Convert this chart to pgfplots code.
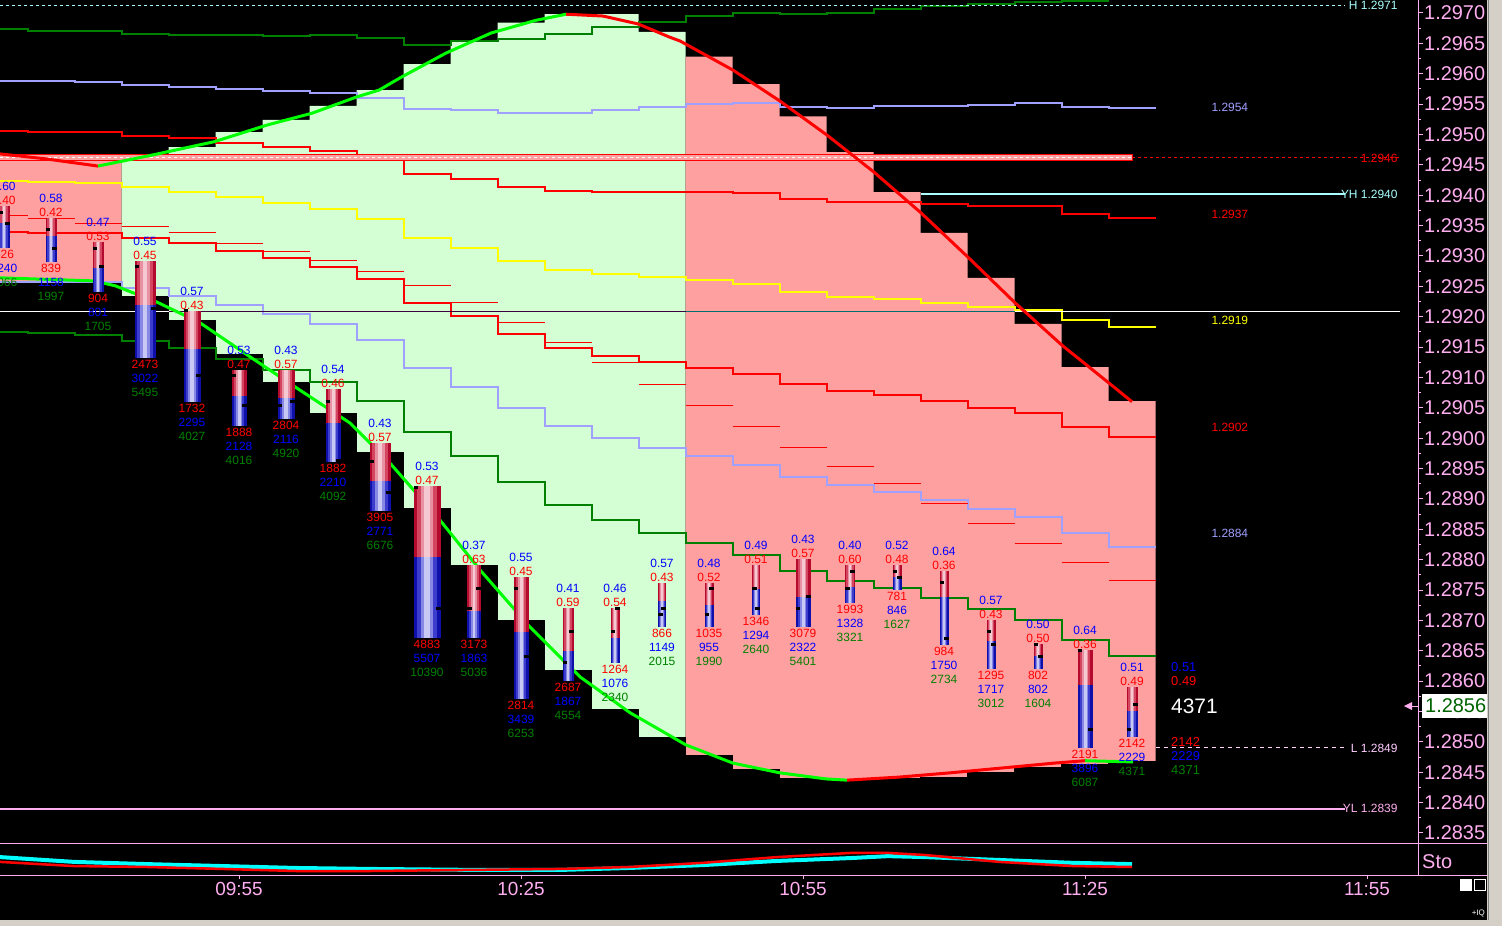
\documentclass[border=0pt]{standalone}
\usepackage{fontspec}
\setmainfont{Liberation Sans}
\usepackage{pgfplots}
\pgfplotsset{compat=1.18}

\definecolor{lgreen}{RGB}{212,255,212}
\definecolor{lpink}{RGB}{255,160,160}
\definecolor{dgreen}{RGB}{0,128,0}
\definecolor{vio}{RGB}{160,160,255}
\definecolor{pinkax}{RGB}{255,175,240}
\definecolor{mylime}{RGB}{0,255,0}
\definecolor{myred}{RGB}{255,0,0}
\definecolor{myyel}{RGB}{255,255,0}
\definecolor{mycyan}{RGB}{0,255,255}
\definecolor{lcyan}{RGB}{170,255,255}
\definecolor{graybg}{RGB}{212,208,200}
\definecolor{darkpur}{RGB}{60,0,60}
\definecolor{tealx}{RGB}{0,110,110}
\definecolor{lblpink}{RGB}{255,205,255}
\definecolor{pricegreen}{RGB}{0,100,0}
\definecolor{brD}{RGB}{180,10,45}
\definecolor{brM}{RGB}{212,70,95}
\definecolor{brL}{RGB}{232,145,162}
\definecolor{brX}{RGB}{245,200,210}
\definecolor{bbD}{RGB}{15,15,170}
\definecolor{bbM}{RGB}{60,60,205}
\definecolor{bbL}{RGB}{135,135,228}
\definecolor{bbX}{RGB}{200,200,245}

\newcommand{\lblfont}{\fontsize{12}{14}\selectfont}

% x, top, split, bottom, width(px), open, close
\newcommand{\candle}[7]{%
  \addplot[brD, line width=#5bp] coordinates {(#1,#2) (#1,#3)};
  \addplot[brM, line width=0.72*#5bp] coordinates {(#1,#2) (#1,#3)};
  \addplot[brL, line width=0.45*#5bp] coordinates {(#1,#2) (#1,#3)};
  \addplot[brX, line width=0.2*#5bp] coordinates {(#1,#2) (#1,#3)};
  \addplot[bbD, line width=#5bp] coordinates {(#1,#3) (#1,#4)};
  \addplot[bbM, line width=0.72*#5bp] coordinates {(#1,#3) (#1,#4)};
  \addplot[bbL, line width=0.45*#5bp] coordinates {(#1,#3) (#1,#4)};
  \addplot[bbX, line width=0.2*#5bp] coordinates {(#1,#3) (#1,#4)};
  \pgfmathsetmacro\cxa{#1-#5/18.8}%
  \pgfmathsetmacro\cxb{#1-#5/18.8+0.5}%
  \pgfmathsetmacro\cxc{#1+#5/18.8-0.5}%
  \pgfmathsetmacro\cxd{#1+#5/18.8}%
  \edef\tmpa{\noexpand\addplot[black, line width=3bp] coordinates {(\cxa,#6) (\cxb,#6)};}\tmpa
  \edef\tmpb{\noexpand\addplot[black, line width=3bp] coordinates {(\cxc,#7) (\cxd,#7)};}\tmpb
}
% x, top, bottom, blue ratio, red ratio, red count, blue count, total
\newcommand{\blab}[8]{%
  \node[font=\lblfont, text=blue, yshift=19.5bp] at (axis cs:#1,#2) {#4};
  \node[font=\lblfont, text=red, yshift=5.5bp] at (axis cs:#1,#2) {#5};
  \node[font=\lblfont, text=red, yshift=-6.5bp] at (axis cs:#1,#3) {#6};
  \node[font=\lblfont, text=blue, yshift=-20.5bp] at (axis cs:#1,#3) {#7};
  \node[font=\lblfont, text=dgreen, yshift=-34.5bp] at (axis cs:#1,#3) {#8};
}

\begin{document}
\begin{tikzpicture}
\useasboundingbox (0,0) rectangle (1502bp,-926bp);
\fill[black] (0,0) rectangle (1502bp,-926bp);

\begin{axis}[
  at={(0,-843bp)}, anchor=south west,
  width=1418bp, height=843bp, scale only axis,
  xmin=-0.4255, xmax=150.426,
  ymin=1.283335, ymax=1.297214,
  enlargelimits=false,
  axis line style={draw=none},
  xtick=\empty,
  ytick={1.2835,1.284,1.2845,1.285,1.2855,1.286,1.2865,1.287,1.2875,1.288,1.2885,1.289,1.2895,1.29,1.2905,1.291,1.2915,1.292,1.2925,1.293,1.2935,1.294,1.2945,1.295,1.2955,1.296,1.2965,1.297},
  ytick pos=right, yticklabel pos=right,
  minor y tick num=1,
  tick align=outside,
  major tick length=5bp, minor tick length=3bp,
  every tick/.append style={pinkax, line width=1bp},
  scaled y ticks=false,
  yticklabel style={/pgf/number format/fixed, /pgf/number format/fixed zerofill, /pgf/number format/precision=4, /pgf/number format/assume math mode=true, text=pinkax, font=\fontsize{20}{20}\selectfont, inner sep=1bp},
  clip=true,
]
% shaded ranges
\addplot[fill=lpink, draw=none, const plot] coordinates {(-2.5,1.29458) (12.5,1.29458)} \closedcycle;
\addplot[fill=lgreen, draw=none, const plot] coordinates {(12.5,1.29458) (17.5,1.29479) (22.5,1.29504) (27.5,1.29524) (32.5,1.29547) (37.5,1.29573) (42.5,1.29616) (47.5,1.29654) (52.5,1.29684) (57.5,1.29698) (62.5,1.29698) (67.5,1.29669) (72.5,1.29669)} \closedcycle;
\addplot[fill=lpink, draw=none, const plot] coordinates {(72.5,1.29628) (77.5,1.29583) (82.5,1.29530) (87.5,1.29471) (92.5,1.29405) (97.5,1.29338) (102.5,1.29264) (107.5,1.29188) (112.5,1.29117) (117.5,1.29061) (122.5,1.29061)} \closedcycle;
\addplot[fill=black, draw=black, line width=1bp, const plot] coordinates {(-3,1.29256) (2.5,1.29256) (7.5,1.29256) (12.5,1.29234) (17.5,1.29193) (22.5,1.29137) (27.5,1.29091) (32.5,1.29041) (37.5,1.28976) (42.5,1.28885) (47.5,1.28791) (52.5,1.28700) (57.5,1.28617) (62.5,1.28554) (67.5,1.28508) (72.5,1.28477) (77.5,1.28454) (82.5,1.28439) (87.5,1.28437) (92.5,1.28439) (97.5,1.28442) (102.5,1.28449) (107.5,1.28457) (112.5,1.28462) (117.5,1.28467) (123.2,1.28467)} \closedcycle;

% stepped bands
\addplot[dgreen, line width=2bp, const plot] coordinates {(-2.5,1.29674) (2.5,1.29670) (7.5,1.29670) (12.5,1.29665) (17.5,1.29664) (22.5,1.29664) (27.5,1.29662) (32.5,1.29664) (37.5,1.29659) (42.5,1.29647) (47.5,1.29654) (52.5,1.29657) (57.5,1.29665) (62.5,1.29677) (67.5,1.29685) (72.5,1.29695) (77.5,1.29700) (82.5,1.29698) (87.5,1.29700) (92.5,1.29707) (97.5,1.29712) (102.5,1.29715) (107.5,1.29718) (112.5,1.29720) (117.5,1.29720)};
\addplot[vio, line width=2bp, const plot] coordinates {(-2.5,1.29588) (2.5,1.29588) (7.5,1.29586) (12.5,1.29581) (17.5,1.29578) (22.5,1.29575) (27.5,1.29572) (32.5,1.29568) (37.5,1.29560) (42.5,1.29542) (47.5,1.29540) (52.5,1.29535) (57.5,1.29535) (62.5,1.29540) (67.5,1.29545) (72.5,1.29550) (77.5,1.29552) (82.5,1.29545) (87.5,1.29544) (92.5,1.29547) (97.5,1.29547) (102.5,1.29549) (107.5,1.29552) (112.5,1.29545) (117.5,1.29544) (122.5,1.29544)};
\addplot[myred, line width=2bp, const plot] coordinates {(-2.5,1.29506) (2.5,1.29504) (7.5,1.29504) (12.5,1.29497) (17.5,1.29494) (22.5,1.29486) (27.5,1.29479) (32.5,1.29473) (37.5,1.29460) (42.5,1.29435) (47.5,1.29427) (52.5,1.29414) (57.5,1.29407) (62.5,1.29405) (67.5,1.29405) (72.5,1.29405) (77.5,1.29404) (82.5,1.29394) (87.5,1.29389) (92.5,1.29389) (97.5,1.29386) (102.5,1.29382) (107.5,1.29382) (112.5,1.29369) (117.5,1.29362) (122.5,1.29362)};
\addplot[myyel, line width=2bp, const plot] coordinates {(-2.5,1.29423) (2.5,1.29422) (7.5,1.29420) (12.5,1.29414) (17.5,1.29405) (22.5,1.29397) (27.5,1.29387) (32.5,1.29377) (37.5,1.29361) (42.5,1.29330) (47.5,1.29313) (52.5,1.29292) (57.5,1.29277) (62.5,1.29270) (67.5,1.29265) (72.5,1.29260) (77.5,1.29254) (82.5,1.29241) (87.5,1.29232) (92.5,1.29229) (97.5,1.29223) (102.5,1.29216) (107.5,1.29211) (112.5,1.29195) (117.5,1.29183) (122.5,1.29183)};
\addplot[myred, line width=2bp, const plot] coordinates {(-2.5,1.29339) (2.5,1.29338) (7.5,1.29338) (12.5,1.29330) (17.5,1.29321) (22.5,1.29308) (27.5,1.29297) (32.5,1.29282) (37.5,1.29262) (42.5,1.29223) (47.5,1.29201) (52.5,1.29172) (57.5,1.29148) (62.5,1.29135) (67.5,1.29125) (72.5,1.29116) (77.5,1.29106) (82.5,1.29089) (87.5,1.29077) (92.5,1.29071) (97.5,1.29061) (102.5,1.29050) (107.5,1.29041) (112.5,1.29018) (117.5,1.29002) (122.5,1.29002)};
\addplot[vio, line width=2bp, const plot] coordinates {(-2.5,1.29257) (2.5,1.29257) (7.5,1.29257) (12.5,1.29247) (17.5,1.29234) (22.5,1.29219) (27.5,1.29204) (32.5,1.29188) (37.5,1.29162) (42.5,1.29116) (47.5,1.29084) (52.5,1.29050) (57.5,1.29020) (62.5,1.29000) (67.5,1.28984) (72.5,1.28971) (77.5,1.28956) (82.5,1.28936) (87.5,1.28923) (92.5,1.28911) (97.5,1.28898) (102.5,1.28883) (107.5,1.28870) (112.5,1.28844) (117.5,1.28821) (122.5,1.28821)};
\addplot[dgreen, line width=2bp, const plot] coordinates {(-2.5,1.29175) (2.5,1.29173) (7.5,1.29170) (12.5,1.29160) (17.5,1.29148) (22.5,1.29130) (27.5,1.29112) (32.5,1.29092) (37.5,1.29061) (42.5,1.29010) (47.5,1.28971) (52.5,1.28928) (57.5,1.28890) (62.5,1.28865) (67.5,1.28844) (72.5,1.28827) (77.5,1.28808) (82.5,1.28781) (87.5,1.28765) (92.5,1.28753) (97.5,1.28737) (102.5,1.28719) (107.5,1.28701) (112.5,1.28668) (117.5,1.28641) (122.5,1.28641)};
\addplot[myred, line width=1bp, jump mark left] coordinates {(-2.5,1.29366) (2.5,1.29361) (7.5,1.29354) (12.5,1.29348) (17.5,1.29338) (22.5,1.29321) (27.5,1.29308) (32.5,1.29293) (37.5,1.29275) (42.5,1.29251) (47.5,1.29223) (52.5,1.29191) (57.5,1.29158) (62.5,1.29124) (67.5,1.29089) (72.5,1.29053) (77.5,1.29020) (82.5,1.28985) (87.5,1.28954) (92.5,1.28925) (97.5,1.28892) (102.5,1.28859) (107.5,1.28827) (112.5,1.28795) (117.5,1.28765) (122.5,1.28765)};

% reference levels
\addplot[lcyan, line width=1bp, dash pattern=on 3bp off 3bp] coordinates {(-0.43,1.29713) (142.66,1.29713)};
\addplot[fill=lpink, draw=myred, line width=1bp] coordinates {(-0.43,1.29467) (120.0,1.29467) (120.0,1.29457) (-0.43,1.29457)} -- cycle;
\addplot[white, line width=0.8bp, dash pattern=on 3bp off 3bp] coordinates {(-0.43,1.29462) (120.0,1.29462)};
\addplot[myred, line width=1bp, dash pattern=on 3bp off 3bp] coordinates {(120.0,1.29462) (148.51,1.29462)};
\addplot[lcyan, line width=1.5bp] coordinates {(97.55,1.29402) (142.66,1.29402)};
\addplot[white, line width=1.2bp] coordinates {(-0.43,1.29208) (17.5,1.29208)};
\addplot[darkpur, line width=1.2bp] coordinates {(17.5,1.29208) (72.5,1.29208)};
\addplot[tealx, line width=1.2bp] coordinates {(72.5,1.29208) (107.5,1.29208)};
\addplot[white, line width=1.2bp] coordinates {(107.5,1.29208) (148.51,1.29208)};
\addplot[lblpink, line width=1bp, dash pattern=on 4bp off 4bp] coordinates {(122.55,1.2849) (142.66,1.2849)};
\addplot[pinkax, line width=2bp] coordinates {(-0.43,1.2839) (142.66,1.2839)};

% smoothed high / low curves
\addplot[myred, line width=3bp] coordinates {(-0.43,1.29468) (4.36,1.29460) (10.0,1.29448)};
\addplot[mylime, line width=3bp] coordinates {(10.0,1.29448) (15.74,1.29466) (22.34,1.29488) (28.09,1.29516) (32.77,1.29535) (37.55,1.29562) (39.89,1.29573) (42.34,1.29595) (47.02,1.29634) (51.81,1.29667) (56.60,1.29688) (59.79,1.29698)};
\addplot[myred, line width=3bp] coordinates {(59.79,1.29698) (63.72,1.29695) (67.45,1.29682) (70.85,1.29660) (71.91,1.29654) (77.55,1.29606) (82.55,1.29555) (87.55,1.29499) (92.55,1.29438) (97.55,1.29371) (102.55,1.29298) (107.55,1.29223) (112.55,1.29153) (117.45,1.29092) (120.0,1.29060)};
\addplot[mylime, line width=3bp] coordinates {(-0.43,1.29264) (9.47,1.29259) (11.81,1.29251) (16.28,1.29224) (20.85,1.29190) (26.17,1.29134) (31.49,1.29079) (36.81,1.29025) (41.06,1.28959) (46.38,1.28865) (50.64,1.28783) (55.96,1.28689) (61.28,1.28607) (66.60,1.28548) (72.55,1.28495) (77.55,1.28465) (82.55,1.28449) (87.45,1.28439) (89.68,1.28437)};
\addplot[myred, line width=3bp] coordinates {(89.68,1.28437) (95.21,1.28442) (100.64,1.28449) (106.17,1.28457) (111.70,1.28465) (115.0,1.28469)};
\addplot[mylime, line width=3bp] coordinates {(115.0,1.28469) (120.11,1.28467)};

% volume bars
\candle{0}{1.29382}{1.29354}{1.29313}{11}{1.29372}{1.29353}
\candle{5}{1.29362}{1.29333}{1.29290}{11}{1.29343}{1.29313}
\candle{10}{1.29323}{1.29280}{1.29241}{11}{1.29313}{1.29282}
\candle{15}{1.29292}{1.29219}{1.29132}{21}{1.29282}{1.29213}
\candle{20}{1.29209}{1.29147}{1.29060}{17}{1.29211}{1.29104}
\candle{25}{1.29112}{1.29069}{1.29020}{15}{1.29104}{1.29053}
\candle{30}{1.29112}{1.29066}{1.29032}{17}{1.29053}{1.29061}
\candle{35}{1.29081}{1.29025}{1.28961}{15}{1.29061}{1.28964}
\candle{40}{1.28992}{1.28930}{1.28880}{21}{1.28961}{1.28911}
\candle{45}{1.28921}{1.28804}{1.28671}{27}{1.28918}{1.28719}
\candle{50}{1.28791}{1.28716}{1.28671}{14}{1.28719}{1.28752}
\candle{55}{1.28771}{1.28681}{1.28571}{15}{1.28752}{1.28641}
\candle{60}{1.28720}{1.28650}{1.28600}{11}{1.28630}{1.28681}
\candle{65}{1.28720}{1.28671}{1.28630}{9}{1.28681}{1.28719}
\candle{70}{1.28762}{1.28732}{1.28689}{8}{1.28710}{1.28720}
\candle{75}{1.28762}{1.28725}{1.28689}{9}{1.28710}{1.28752}
\candle{80}{1.28791}{1.28752}{1.28709}{8}{1.28752}{1.28720}
\candle{85}{1.28801}{1.28738}{1.28689}{15}{1.28720}{1.28740}
\candle{90}{1.28791}{1.28755}{1.28729}{10}{1.28752}{1.28781}
\candle{95}{1.28791}{1.28771}{1.28750}{9}{1.28781}{1.28771}
\candle{100}{1.28781}{1.28738}{1.28660}{9}{1.28762}{1.28671}
\candle{105}{1.28701}{1.28666}{1.28620}{9}{1.28681}{1.28661}
\candle{110}{1.28661}{1.28641}{1.28620}{9}{1.28660}{1.28641}
\candle{115}{1.28651}{1.28594}{1.28490}{15}{1.28650}{1.28521}
\candle{120}{1.28590}{1.28551}{1.28508}{11}{1.28521}{1.28561}

\blab{0}{1.29382}{1.29313}{0.60}{0.40}{826}{1240}{2066}
\blab{5}{1.29362}{1.29290}{0.58}{0.42}{839}{1158}{1997}
\blab{10}{1.29323}{1.29241}{0.47}{0.53}{904}{801}{1705}
\blab{15}{1.29292}{1.29132}{0.55}{0.45}{2473}{3022}{5495}
\blab{20}{1.29209}{1.29060}{0.57}{0.43}{1732}{2295}{4027}
\blab{25}{1.29112}{1.29020}{0.53}{0.47}{1888}{2128}{4016}
\blab{30}{1.29112}{1.29032}{0.43}{0.57}{2804}{2116}{4920}
\blab{35}{1.29081}{1.28961}{0.54}{0.46}{1882}{2210}{4092}
\blab{40}{1.28992}{1.28880}{0.43}{0.57}{3905}{2771}{6676}
\blab{45}{1.28921}{1.28671}{0.53}{0.47}{4883}{5507}{10390}
\blab{50}{1.28791}{1.28671}{0.37}{0.63}{3173}{1863}{5036}
\blab{55}{1.28771}{1.28571}{0.55}{0.45}{2814}{3439}{6253}
\blab{60}{1.28720}{1.28600}{0.41}{0.59}{2687}{1867}{4554}
\blab{65}{1.28720}{1.28630}{0.46}{0.54}{1264}{1076}{2340}
\blab{70}{1.28762}{1.28689}{0.57}{0.43}{866}{1149}{2015}
\blab{75}{1.28762}{1.28689}{0.48}{0.52}{1035}{955}{1990}
\blab{80}{1.28791}{1.28709}{0.49}{0.51}{1346}{1294}{2640}
\blab{85}{1.28801}{1.28689}{0.43}{0.57}{3079}{2322}{5401}
\blab{90}{1.28791}{1.28729}{0.40}{0.60}{1993}{1328}{3321}
\blab{95}{1.28791}{1.28750}{0.52}{0.48}{781}{846}{1627}
\blab{100}{1.28781}{1.28660}{0.64}{0.36}{984}{1750}{2734}
\blab{105}{1.28701}{1.28620}{0.57}{0.43}{1295}{1717}{3012}
\blab{110}{1.28661}{1.28620}{0.50}{0.50}{802}{802}{1604}
\blab{115}{1.28651}{1.28490}{0.64}{0.36}{2191}{3896}{6087}
\blab{120}{1.28590}{1.28508}{0.51}{0.49}{2142}{2229}{4371}
\end{axis}

% Sto panel
\begin{axis}[
  at={(0,-875bp)}, anchor=south west,
  width=1418bp, height=32bp, scale only axis,
  xmin=-0.4255, xmax=150.426, ymin=0, ymax=100,
  enlargelimits=false,
  axis line style={draw=none},
  ytick=\empty,
  xtick={25,55,85,115,145},
  xticklabels={09:55,10:25,10:55,11:25,11:55},
  xtick pos=bottom, tick align=outside, major tick length=4bp,
  every tick/.append style={pinkax, line width=1bp},
  xticklabel style={text=pinkax, font=\fontsize{19}{19}\selectfont, inner sep=1bp, yshift=-2bp},
  clip=true,
]
\addplot[mycyan, line width=4bp] coordinates {(-0.43,56) (7.45,41) (15.32,34) (23.19,28) (31.06,22) (38.94,19) (49.89,16) (59.36,16) (66.49,22) (74.36,31) (82.23,44) (90.11,53) (94.04,59) (97.98,56) (105.85,47) (113.72,38) (120.0,34)};
\addplot[myred, line width=2.5bp] coordinates {(-0.43,41) (7.45,28) (15.32,25) (23.19,19) (31.06,12.5) (38.94,12.5) (49.89,16) (59.36,19) (66.49,25) (74.36,38) (82.23,56) (90.11,69) (94.04,69) (97.98,62.5) (105.85,41) (113.72,28) (120.0,25)};
\end{axis}

% frame lines
\draw[pinkax, line width=1bp] (1418.5bp,0) -- (1418.5bp,-875bp);
\draw[pinkax, line width=1bp] (0,-843.5bp) -- (1487bp,-843.5bp);
\draw[pinkax, line width=1bp] (0,-875.5bp) -- (1487bp,-875.5bp);

% level labels
\node[anchor=east, text=lcyan, font=\lblfont] at (1401bp,-5bp) {H 1.2971};
\node[anchor=east, text=myred, font=\lblfont] at (1401bp,-158bp) {1.2946};
\node[anchor=east, text=lcyan, font=\lblfont] at (1401bp,-194bp) {YH 1.2940};
\node[anchor=east, text=lblpink, font=\lblfont] at (1401bp,-748bp) {L 1.2849};
\node[anchor=east, text=pinkax, font=\lblfont] at (1401bp,-808bp) {YL 1.2839};
\node[anchor=west, text=vio, font=\lblfont] at (1208bp,-107bp) {1.2954};
\node[anchor=west, text=myred, font=\lblfont] at (1208bp,-214bp) {1.2937};
\node[anchor=west, text=myyel, font=\lblfont] at (1208bp,-320bp) {1.2919};
\node[anchor=west, text=myred, font=\lblfont] at (1208bp,-427bp) {1.2902};
\node[anchor=west, text=vio, font=\lblfont] at (1208bp,-533bp) {1.2884};

% current bar summary
\node[anchor=west, text=blue, font=\fontsize{13}{14}\selectfont, inner sep=0pt] at (1171bp,-667bp) {0.51};
\node[anchor=west, text=myred, font=\fontsize{13}{14}\selectfont, inner sep=0pt] at (1171bp,-681bp) {0.49};
\node[anchor=west, text=white, font=\fontsize{21}{22}\selectfont, inner sep=0pt] at (1171bp,-706bp) {4371};
\node[anchor=west, text=myred, font=\fontsize{13}{14}\selectfont, inner sep=0pt] at (1171bp,-742bp) {2142};
\node[anchor=west, text=blue, font=\fontsize{13}{14}\selectfont, inner sep=0pt] at (1171bp,-756bp) {2229};
\node[anchor=west, text=dgreen, font=\fontsize{13}{14}\selectfont, inner sep=0pt] at (1171bp,-770bp) {4371};

% current price marker
\fill[white] (1422bp,-694bp) rectangle (1487bp,-718bp);
\node[anchor=west, text=pricegreen, font=\fontsize{20}{20}\selectfont, inner sep=0pt] at (1425bp,-706bp) {1.2856};
\fill[pinkax] (1404bp,-706bp) -- (1412bp,-702bp) -- (1412bp,-710bp) -- cycle;
\draw[pinkax, line width=1bp] (1410bp,-706bp) -- (1418bp,-706bp);

\node[anchor=west, text=pinkax, font=\fontsize{20}{20}\selectfont, inner sep=0pt] at (1422bp,-862bp) {Sto};

% window chrome
\fill[graybg] (1487bp,0) rectangle (1502bp,-926bp);
\draw[gray, line width=1bp] (1488bp,0) -- (1488bp,-920bp);
\fill[graybg] (0,-920bp) rectangle (1502bp,-926bp);
\fill[white] (1460bp,-879bp) rectangle (1472bp,-891bp);
\draw[white, line width=0.8bp] (1474.5bp,-879.5bp) rectangle (1485.5bp,-890.5bp);
\node[anchor=east, text=white, font=\fontsize{8}{8}\selectfont, inner sep=0pt] at (1485bp,-913bp) {+IQ};
\end{tikzpicture}
\end{document}
